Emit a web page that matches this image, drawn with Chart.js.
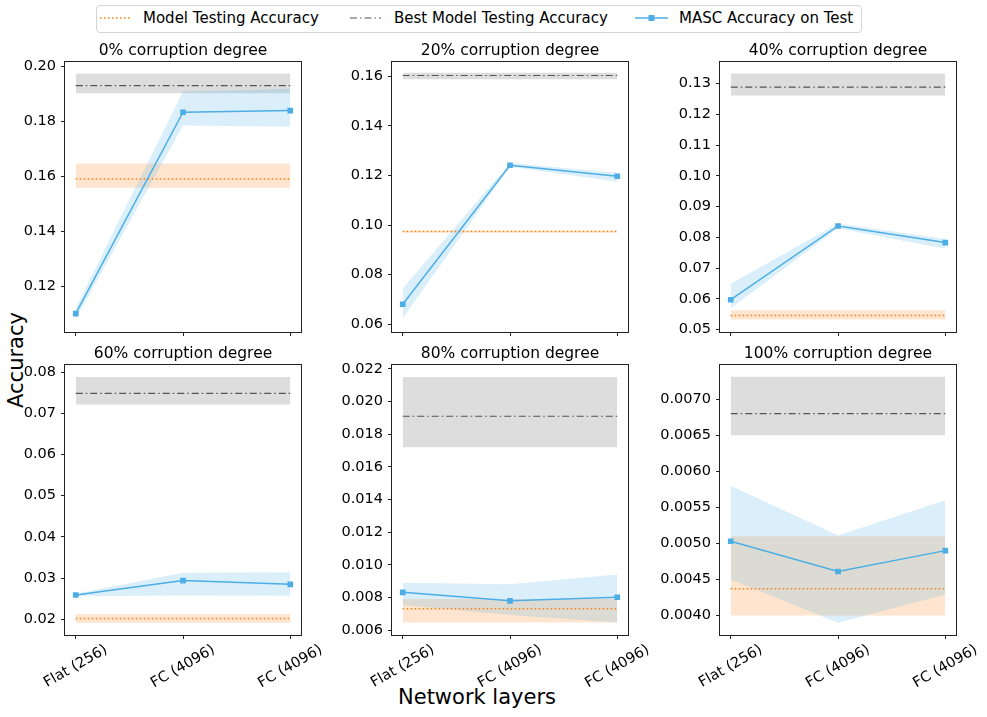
<!DOCTYPE html>
<html>
<head>
<meta charset="utf-8">
<script src="https://cdn.jsdelivr.net/npm/chart.js@4.4.1/dist/chart.umd.min.js"></script>
<style>
  body { margin: 0; background: #fff; font-family: 'DejaVu Sans', sans-serif; }
  #page { position: relative; width: 987px; height: 717px; overflow: hidden; background: #fff; }
  #page canvas { position: absolute; }
  .legend-box { position: absolute; left: 96px; top: 5px; width: 764px; height: 26px;
                border: 1px solid #d4d4d4; border-radius: 4px; }
  .legend-text { position: absolute; top: 9px; font-size: 15px; line-height: 18px; color: #000; white-space: nowrap; }
  .legend-line { position: absolute; top: 12px; }
  .axis-label { position: absolute; font-size: 21px; line-height: 1; color: #000; white-space: nowrap; }
</style>
</head>
<body>
<div id="page">
  <div class="legend-box"></div>
  <svg class="legend-line" style="left:100px" width="32" height="12">
    <line x1="0" y1="6" x2="31" y2="6" stroke="#ff7f0e" stroke-width="1.5" stroke-dasharray="1.5 2.5"/>
  </svg>
  <span class="legend-text" style="left:143px">Model Testing Accuracy</span>
  <svg class="legend-line" style="left:350px" width="32" height="12">
    <line x1="0" y1="6" x2="31" y2="6" stroke="#555" stroke-width="1.2" stroke-dasharray="7 3 1.5 3"/>
  </svg>
  <span class="legend-text" style="left:394px">Best Model Testing Accuracy</span>
  <svg class="legend-line" style="left:635px" width="33" height="12">
    <line x1="0" y1="6" x2="33" y2="6" stroke="#4caee5" stroke-width="1.5"/>
    <rect x="13.5" y="3" width="6" height="6" fill="#4caee5"/>
  </svg>
  <span class="legend-text" style="left:679px">MASC Accuracy on Test</span>

  <div class="axis-label" style="left:16px; top:360px; transform: translate(-50%, -50%) rotate(-90deg);">Accuracy</div>
  <div class="axis-label" style="left:477px; top:697px; transform: translate(-50%, -50%);">Network layers</div>
</div>

<script>
// categories
const layers = ['Flat (256)', 'FC (4096)', 'FC (4096)'];
const titles = ['0% corruption degree', '20% corruption degree', '40% corruption degree',
                '60% corruption degree', '80% corruption degree', '100% corruption degree'];

// Model Testing Accuracy (mean and band), one value per panel
const modelMean = [0.1589, 0.0974, 0.0546, 0.0202, 0.00731, 0.00437];
const modelLow  = [0.1557, 0.0970, 0.0533, 0.0192, 0.00648, 0.00400];
const modelHigh = [0.1646, 0.0978, 0.0563, 0.0213, 0.00792, 0.00510];

// Best Model Testing Accuracy
const bestMean = [0.1929, 0.1603, 0.1289, 0.0748, 0.0191, 0.00680];
const bestLow  = [0.1901, 0.1588, 0.1262, 0.0721, 0.0172, 0.00650];
const bestHigh = [0.1972, 0.1614, 0.1333, 0.0788, 0.0215, 0.00731];

// MASC Accuracy on Test, one value per layer
const mascMean = [
  [0.1100, 0.1832, 0.1838],
  [0.0681, 0.1241, 0.1197],
  [0.0597, 0.0837, 0.0783],
  [0.0259, 0.0294, 0.0285],
  [0.00832, 0.00780, 0.00802],
  [0.00503, 0.00461, 0.00490]
];
const mascLow = [
  [0.1080, 0.1784, 0.1779],
  [0.0624, 0.1235, 0.1175],
  [0.0569, 0.0830, 0.0763],
  [0.0256, 0.0258, 0.0257],
  [0.00755, 0.00694, 0.00647],
  [0.00450, 0.00390, 0.00429]
];
const mascHigh = [
  [0.1120, 0.1907, 0.1917],
  [0.0744, 0.1250, 0.1211],
  [0.0649, 0.0845, 0.0795],
  [0.0262, 0.0313, 0.0314],
  [0.00891, 0.00881, 0.00942],
  [0.00580, 0.00511, 0.00560]
];

// y axes
const yMins = [0.1033, 0.0569, 0.0492, 0.0162, 0.00571, 0.00373];
const yMaxs = [0.2016, 0.1659, 0.1372, 0.0818, 0.02226, 0.00748];
const yTicks = [
  [0.12, 0.14, 0.16, 0.18, 0.20],
  [0.06, 0.08, 0.10, 0.12, 0.14, 0.16],
  [0.05, 0.06, 0.07, 0.08, 0.09, 0.10, 0.11, 0.12, 0.13],
  [0.02, 0.03, 0.04, 0.05, 0.06, 0.07, 0.08],
  [0.006, 0.008, 0.010, 0.012, 0.014, 0.016, 0.018, 0.020, 0.022],
  [0.0040, 0.0045, 0.0050, 0.0055, 0.0060, 0.0065, 0.0070]
];
const tickDigits = [2, 2, 2, 2, 3, 4];

// layout
const FONT = 'DejaVu Sans';
const plotLeft = [65, 392, 720];
const plotTop = [60, 363];
const plotW = 236, plotH = 272;
const AXIS_W = 64, TITLE_H = 32, RIGHT_PAD = 48;
const bottomH = [8, 70];

const ORANGE = '#ff7f0e', ORANGE_BAND = 'rgba(255,127,14,0.2)';
const GRAY = '#555555', GRAY_BAND = 'rgba(128,128,128,0.27)';
const BLUE = '#4caee5', BLUE_BAND = 'rgba(76,174,229,0.2)';

const hline = v => [{ x: 0, y: v }, { x: layers.length - 1, y: v }];
const pts = arr => arr.map((v, j) => ({ x: j, y: v }));

const band = (data, fill, color, order) => ({
  data, fill, backgroundColor: color, borderColor: 'rgba(0,0,0,0)', borderWidth: 0,
  pointRadius: 0, pointHoverRadius: 0, tension: 0, order
});

// box around each plot
const spines = {
  id: 'spines',
  afterDatasetsDraw(chart) {
    const { ctx, chartArea: a } = chart;
    ctx.save();
    ctx.strokeStyle = '#222';
    ctx.lineWidth = 1;
    ctx.strokeRect(Math.round(a.left) - 0.5, Math.round(a.top) - 0.5,
                   Math.round(a.right - a.left) + 1, Math.round(a.bottom - a.top) + 1);
    ctx.restore();
  }
};

// rotated, centred tick labels for the bottom row
const xLabels = {
  id: 'xLabels',
  afterDraw(chart, args, opts) {
    if (!opts.show) return;
    const { ctx, chartArea: a } = chart;
    const sx = chart.scales.x;
    const ang = Math.PI / 6, size = 14.5;
    ctx.save();
    ctx.font = size + 'px "' + FONT + '"';
    ctx.fillStyle = '#000';
    ctx.textAlign = 'center';
    ctx.textBaseline = 'middle';
    layers.forEach((lab, j) => {
      const w = ctx.measureText(lab).width;
      const h = w * Math.sin(ang) + size * Math.cos(ang);
      ctx.save();
      ctx.translate(sx.getPixelForValue(j), a.bottom + 7.5 + h / 2);
      ctx.rotate(-ang);
      ctx.fillText(lab, 0, 0);
      ctx.restore();
    });
    ctx.restore();
  }
};

const page = document.getElementById('page');

titles.forEach((title, i) => {
  const row = Math.floor(i / 3), col = i % 3;
  const canvas = document.createElement('canvas');
  canvas.width = AXIS_W + plotW + RIGHT_PAD;
  canvas.height = TITLE_H + plotH + bottomH[row];
  canvas.style.left = (plotLeft[col] - AXIS_W) + 'px';
  canvas.style.top = (plotTop[row] - TITLE_H) + 'px';
  page.appendChild(canvas);

  const tickGrid = { display: true, drawOnChartArea: false, drawTicks: true, tickLength: 4, color: '#222', lineWidth: 1 };

  new Chart(canvas, {
    type: 'line',
    data: {
      datasets: [
        band(hline(modelHigh[i]), '+1', ORANGE_BAND, 10),
        band(hline(modelLow[i]), false, ORANGE_BAND, 10),
        band(hline(bestHigh[i]), '+1', GRAY_BAND, 9),
        band(hline(bestLow[i]), false, GRAY_BAND, 9),
        band(pts(mascHigh[i]), '+1', BLUE_BAND, 8),
        band(pts(mascLow[i]), false, BLUE_BAND, 8),
        { label: 'Model Testing Accuracy', data: hline(modelMean[i]), borderColor: ORANGE, borderWidth: 1.5,
          borderDash: [1.5, 2.5], pointRadius: 0, fill: false, order: 3 },
        { label: 'Best Model Testing Accuracy', data: hline(bestMean[i]), borderColor: GRAY, borderWidth: 1.2,
          borderDash: [7, 3, 1.5, 3], pointRadius: 0, fill: false, order: 2 },
        { label: 'MASC Accuracy on Test', data: pts(mascMean[i]), borderColor: BLUE, borderWidth: 1.5,
          pointStyle: 'rect', pointRadius: 4, pointBackgroundColor: BLUE, pointBorderWidth: 0,
          fill: false, tension: 0, order: 1 }
      ]
    },
    options: {
      responsive: false,
      animation: false,
      layout: { padding: { left: 0, right: RIGHT_PAD, top: 0, bottom: 0 } },
      plugins: {
        legend: { display: false },
        tooltip: { enabled: false },
        title: { display: true, text: title, fullSize: false, color: '#000',
                 font: { family: FONT, size: 15.5, weight: 'normal' }, padding: { top: 14, bottom: 1 } },
        xLabels: { show: row === 1 }
      },
      scales: {
        x: {
          type: 'linear', min: -0.1, max: 2.1,
          afterBuildTicks: s => { s.ticks = layers.map((l, j) => ({ value: j })); },
          afterFit: s => { s.height = bottomH[row]; s.paddingLeft = 0; s.paddingRight = 0; },
          ticks: { display: false },
          grid: tickGrid,
          border: { display: false }
        },
        y: {
          type: 'linear', min: yMins[i], max: yMaxs[i],
          afterBuildTicks: s => { s.ticks = yTicks[i].map(v => ({ value: v })); },
          afterFit: s => { s.width = AXIS_W; s.paddingTop = 0; s.paddingBottom = 0; },
          ticks: { autoSkip: false, color: '#000', padding: 5, font: { family: FONT, size: 14.5 },
                   callback: v => v.toFixed(tickDigits[i]) },
          grid: tickGrid,
          border: { display: false }
        }
      }
    },
    plugins: [spines, xLabels]
  });
});
</script>
</body>
</html>
